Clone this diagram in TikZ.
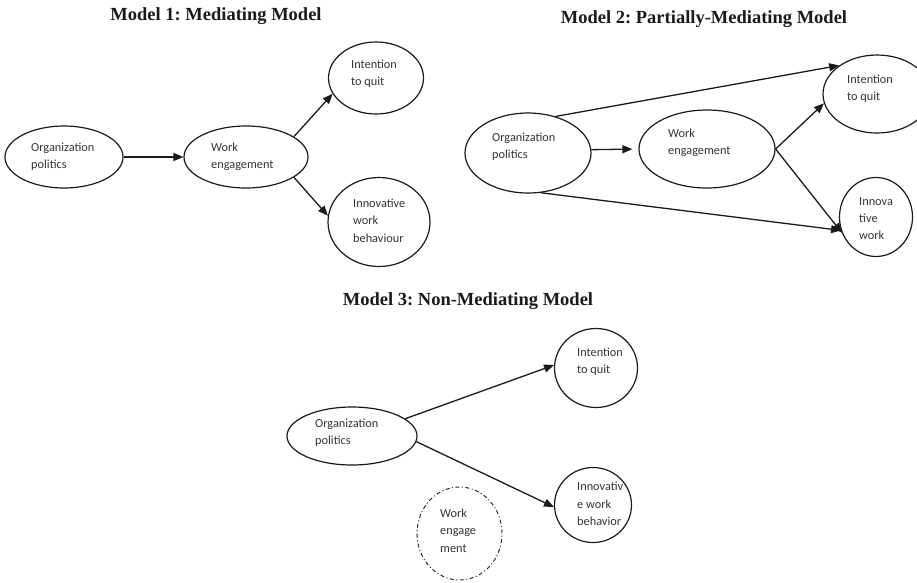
\documentclass[tikz,border=0pt]{standalone}
\usepackage{fontspec}
\setmainfont{Liberation Serif}
\newfontfamily\calib{Carlito}
\usetikzlibrary{arrows.meta,shapes.geometric}
\definecolor{ink}{HTML}{1A1A1A}
\definecolor{txtc}{HTML}{333333}
\tikzset{
  ell/.style={ellipse, draw=ink, line width=1.2pt, inner sep=0pt},
  dashell/.style={ellipse, draw=ink, line width=0.9pt, inner sep=0pt, dash pattern=on 4pt off 2.5pt on 1pt off 2.5pt},
  lbl/.style={anchor=west, align=left, inner sep=0pt, text=txtc, font=\calib\fontsize{12.3}{17.3}\selectfont},
  ttl/.style={inner sep=0pt, text=ink, font=\bfseries\fontsize{18.5}{20}\selectfont},
  arr/.style={draw=ink, line width=1.3pt, -{Triangle[length=10pt,width=8pt]}}
}
\frenchspacing
\begin{document}
\begin{tikzpicture}[x=1pt,y=-1pt]
\useasboundingbox (0,0) rectangle (917,582);
% ---------- Model 1 ----------
\node[ttl] (t1) at (216,16) {Model 1: Mediating Model};
\node[ell, minimum width=118pt, minimum height=62pt] (aop) at (64,157) {};
\node[ell, minimum width=124pt, minimum height=62pt] (awe) at (246,157) {};
\node[ell, minimum width=95pt, minimum height=72pt] (aiq) at (376,78) {};
\node[ell, minimum width=102pt, minimum height=89pt] (aiw) at (379,222) {};
\node[lbl] (aopt) at (31,156.5) {Organization\\politics};
\node[lbl] (awet) at (211,156.5) {Work\\engagement};
\node[lbl] (aiqt) at (351,73.5) {Intention\\to quit};
\node[lbl] (aiwt) at (353,220.5) {Innovative\\work\\behaviour};
\draw[arr] (aop.east) -- (awe.west);
\draw[arr] (awe.23) -- (aiq.200);
\draw[arr] (awe.-23) -- (aiw.173);
% ---------- Model 2 ----------
\node[ttl] (t2) at (704,19) {Model 2: Partially-Mediating Model};
\node[ell, minimum width=126pt, minimum height=80pt] (bop) at (528,153) {};
\node[ell, minimum width=136pt, minimum height=78pt] (bwe) at (707,149) {};
\node[ell, minimum width=108pt, minimum height=78pt] (biq) at (877,94) {};
\node[ell, minimum width=73pt, minimum height=79pt] (biw) at (876,217) {};
\node[lbl] (bopt) at (492,146.5) {Organization\\politics};
\node[lbl] (bwet) at (668,143) {Work\\engagement};
\node[lbl] (biqt) at (847,88.5) {Intention\\to quit};
\node[lbl] (biwt) at (859,218.5) {Innova\\tive\\work};
\draw[arr] (bop.53) -- (biq.143);
\draw[arr, shorten >=6pt] (bop.3) -- (bwe.west);
\draw[arr] (bwe.east) -- (biq.190);
\draw[arr] (bwe.east) -- (biw.205);
\draw[arr] (bop.-72) -- (biw.201);
% ---------- Model 3 ----------
\node[ttl] (t3) at (468,301) {Model 3: Non-Mediating Model};
\node[ell, minimum width=130pt, minimum height=58pt] (cop) at (352,436) {};
\node[ell, minimum width=83pt, minimum height=79pt] (ciq) at (596,368) {};
\node[ell, minimum width=77pt, minimum height=75pt] (ciw) at (593,505) {};
\node[dashell, minimum width=85pt, minimum height=93pt] (cwe) at (459.5,533.5) {};
\node[lbl] (copt) at (315,432.5) {Organization\\politics};
\node[lbl] (ciqt) at (577,361.5) {Intention\\to quit};
\node[lbl] (ciwt) at (577,504) {Innovativ\\e work\\behavior};
\node[lbl] (cwet) at (440,530.5) {Work\\engage\\ment};
\draw[arr] (cop.18) -- (ciq.176);
\draw[arr] (cop.-5) -- (ciw.183);
\end{tikzpicture}
\end{document}
